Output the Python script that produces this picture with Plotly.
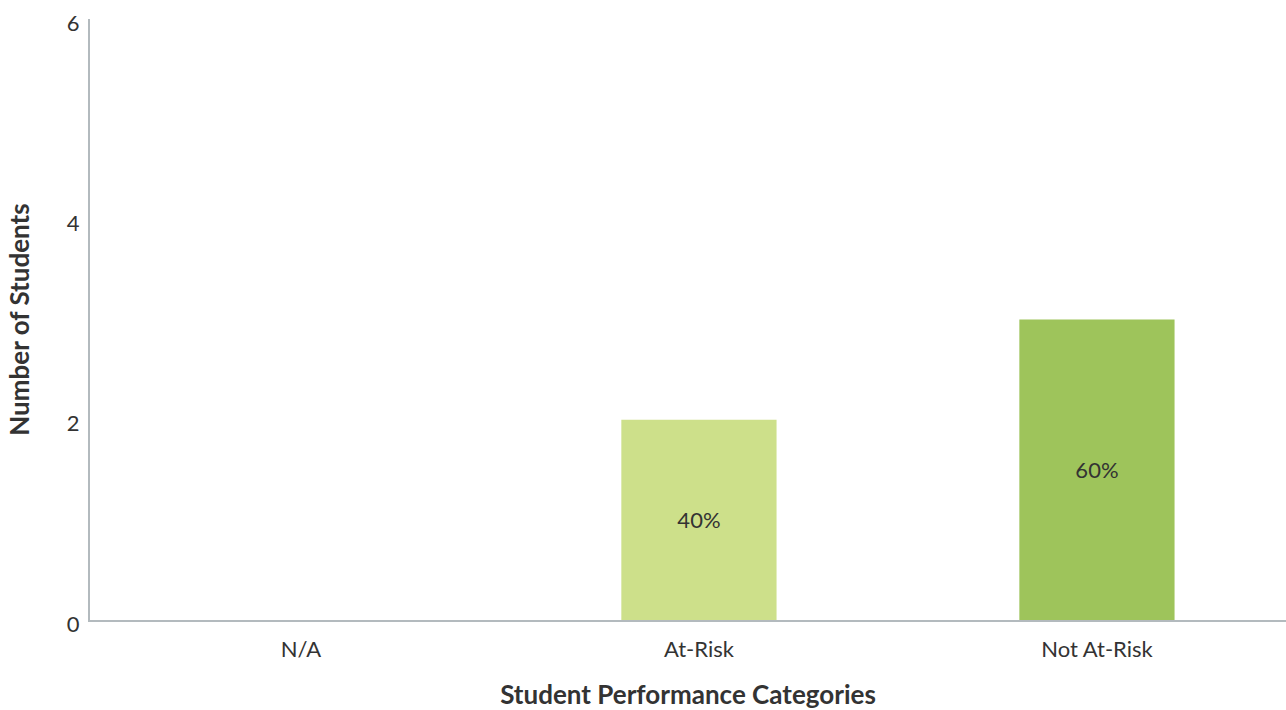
import plotly.graph_objects as go

# Student counts per performance category
categories = ["N/A", "At-Risk", "Not At-Risk"]
student_counts = [0, 2, 3]
bar_colors = ["#cde08a", "#cde08a", "#9ec45b"]
y_ticks = [0, 2, 4, 6]

total = sum(student_counts)
share_labels = [f"{round(100 * c / total)}%" if c else "" for c in student_counts]

fig = go.Figure(
    go.Bar(
        x=categories,
        y=student_counts,
        marker=dict(color=bar_colors, line=dict(width=0)),
        width=0.39,
        text=share_labels,
        textposition="inside",
        insidetextanchor="middle",
        textfont=dict(family="Lato", size=22, color="#333333"),
        hoverinfo="skip",
    )
)

axis_font = dict(family="Lato", size=22, color="#333333")
title_font = dict(family="Lato", size=26, color="#333333", weight="bold")

fig.update_layout(
    width=1286,
    height=710,
    margin=dict(l=90, r=0, t=19, b=90),
    paper_bgcolor="white",
    plot_bgcolor="white",
    showlegend=False,
    font=dict(family="Lato"),
    uniformtext=dict(minsize=22, mode="show"),
    xaxis=dict(
        type="category",
        range=[-0.53, 2.475],
        showline=True,
        linecolor="#b3babe",
        linewidth=2,
        showgrid=False,
        ticks="outside",
        ticklen=9,
        tickcolor="rgba(0,0,0,0)",
        tickfont=axis_font,
        title=dict(text="Student Performance Categories", font=title_font, standoff=24),
        zeroline=False,
    ),
    yaxis=dict(
        range=[0, 6],
        tickvals=y_ticks,
        showline=True,
        linecolor="#b3babe",
        linewidth=2,
        showgrid=False,
        zeroline=False,
        ticks="outside",
        ticklen=4,
        tickcolor="rgba(0,0,0,0)",
        tickfont=axis_font,
        ticklabelshift=4,
        title=dict(text="Number of Students", font=title_font, standoff=30),
    ),
)

fig.write_html("out.html")
